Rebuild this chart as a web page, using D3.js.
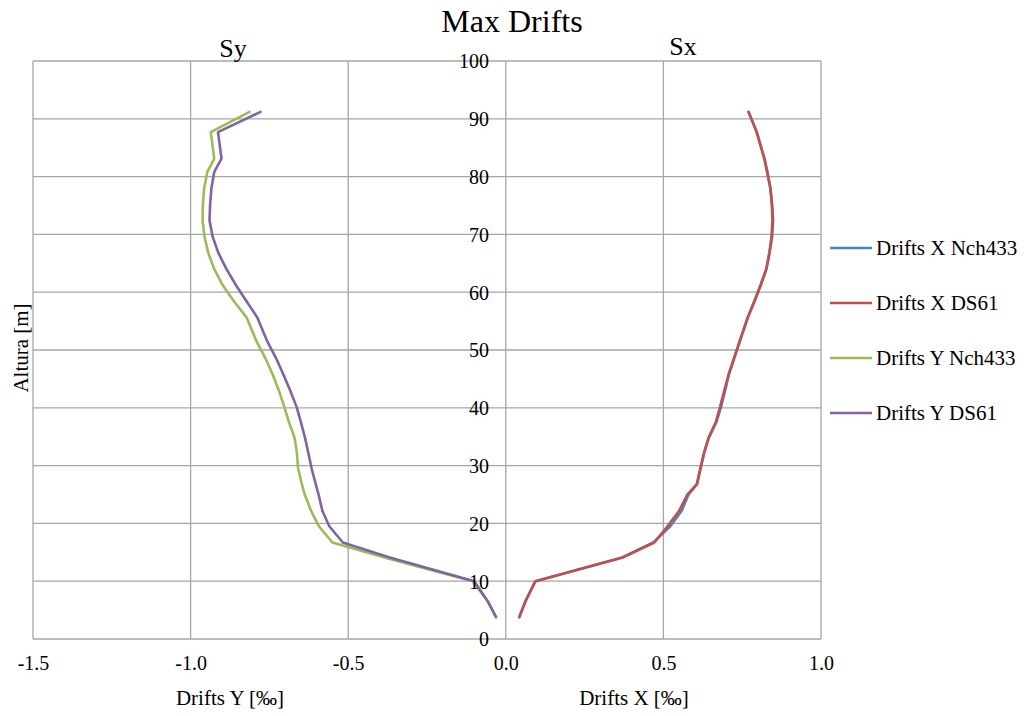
<!DOCTYPE html>
<html>
<head>
<meta charset="utf-8">
<script src="https://cdn.jsdelivr.net/npm/d3@7"></script>
<style>
  html, body { margin: 0; padding: 0; background: #fff; }
  svg { display: block; font-family: "Liberation Serif", "Times New Roman", serif; }
</style>
</head>
<body>
<svg id="chart" width="1026" height="716"></svg>
<script>
// Storey heights [m] shared by every series
const heights = [3.8, 6.5, 10, 14.1, 16.7, 19.5, 22.2, 25, 26.8, 29.5, 32.3, 34.8, 37.5, 40.2, 43, 45.8,
  48.6, 51.4, 55.6, 58.4, 61.2, 64, 66.8, 69.6, 72.4, 75.2, 78, 80.8, 83.1, 87.7, 91.2];

// Drifts in X direction [‰]
const driftsXNch433 = [0.043, 0.062, 0.094, 0.370, 0.468, 0.522, 0.558, 0.580, 0.607, 0.618, 0.630, 0.644,
  0.668, 0.683, 0.696, 0.708, 0.725, 0.742, 0.768, 0.789, 0.809, 0.827, 0.837, 0.845, 0.848, 0.845,
  0.840, 0.830, 0.821, 0.796, 0.770];
const driftsXDS61 = [0.043, 0.062, 0.094, 0.370, 0.471, 0.513, 0.550, 0.576, 0.606, 0.617, 0.629, 0.643,
  0.666, 0.680, 0.693, 0.707, 0.724, 0.741, 0.767, 0.788, 0.808, 0.826, 0.836, 0.843, 0.846, 0.844,
  0.839, 0.829, 0.820, 0.796, 0.770];

// Drifts in Y direction [‰]
const driftsYNch433 = [-0.031, -0.057, -0.105, -0.385, -0.550, -0.593, -0.618, -0.638, -0.647, -0.659,
  -0.663, -0.670, -0.688, -0.703, -0.720, -0.740, -0.763, -0.790, -0.822, -0.862, -0.898, -0.925,
  -0.944, -0.956, -0.962, -0.961, -0.957, -0.947, -0.925, -0.936, -0.813];
const driftsYDS61 = [-0.031, -0.057, -0.100, -0.368, -0.517, -0.560, -0.582, -0.594, -0.603, -0.616,
  -0.627, -0.637, -0.650, -0.664, -0.684, -0.706, -0.729, -0.756, -0.788, -0.822, -0.856, -0.886,
  -0.912, -0.930, -0.940, -0.938, -0.934, -0.925, -0.902, -0.913, -0.778];

const seriesNames = ["Drifts X Nch433", "Drifts X DS61", "Drifts Y Nch433", "Drifts Y DS61"];
const seriesColors = ["#4F81BD", "#C0504D", "#9BBB59", "#8064A2"];
const seriesValues = [driftsXNch433, driftsXDS61, driftsYNch433, driftsYDS61];

const xTicks = [-1.5, -1.0, -0.5, 0.0, 0.5, 1.0];
const yTicks = [0, 10, 20, 30, 40, 50, 60, 70, 80, 90, 100];

const svg = d3.select("#chart");
const plot = { left: 33, right: 821, top: 61, bottom: 639 };

const x = d3.scaleLinear().domain([-1.5, 1.0]).range([plot.left, plot.right]);
const y = d3.scaleLinear().domain([0, 100]).range([plot.bottom, plot.top]);

const gridColor = "#A6A6A6";

// Gridlines
const grid = svg.append("g");
grid.selectAll("line.v").data(xTicks).join("line")
  .attr("x1", d => x(d)).attr("x2", d => x(d))
  .attr("y1", plot.top).attr("y2", plot.bottom)
  .attr("stroke", gridColor).attr("stroke-width", 1.3);
grid.selectAll("line.h").data(yTicks).join("line")
  .attr("x1", plot.left).attr("x2", plot.right)
  .attr("y1", d => y(d)).attr("y2", d => y(d))
  .attr("stroke", gridColor).attr("stroke-width", 1.3);

// Series lines
const line = d3.line()
  .x(d => x(d[0]))
  .y(d => y(d[1]));

seriesValues.forEach((vals, i) => {
  svg.append("path")
    .datum(vals.map((v, k) => [v, heights[k]]))
    .attr("fill", "none")
    .attr("stroke", seriesColors[i])
    .attr("stroke-width", 2.6)
    .attr("stroke-linejoin", "round")
    .attr("stroke-linecap", "round")
    .attr("d", line);
});

// X axis labels
const xAxis = d3.axisBottom(x).tickValues(xTicks).tickSize(0).tickPadding(0)
  .tickFormat(d => d.toFixed(1));
const gx = svg.append("g").attr("transform", `translate(0, 670)`).call(xAxis);
gx.select(".domain").remove();
gx.selectAll("text")
  .attr("dy", 0).attr("y", 0)
  .attr("font-family", "Liberation Serif, Times New Roman, serif")
  .attr("font-size", 20).attr("fill", "#000");

// Y axis labels, placed beside the zero line
const yAxis = d3.axisLeft(y).tickValues(yTicks).tickSize(0).tickPadding(0);
const gy = svg.append("g").attr("transform", `translate(489, 0)`).call(yAxis);
gy.select(".domain").remove();
gy.selectAll("text")
  .attr("x", 0).attr("dy", "0.34em")
  .attr("font-family", "Liberation Serif, Times New Roman, serif")
  .attr("font-size", 20).attr("fill", "#000");

// Titles
const txt = (s, tx, ty, size, anchor = "middle") =>
  svg.append("text").attr("x", tx).attr("y", ty).attr("font-size", size)
    .attr("text-anchor", anchor).attr("fill", "#000").text(s);

txt("Max Drifts", 512, 32, 32);
txt("Sy", 233, 57, 26);
txt("Sx", 683, 55, 26);
txt("Drifts Y [‰]", 230, 705, 21);
txt("Drifts X [‰]", 634, 705, 21);
svg.append("text")
  .attr("transform", "translate(28, 348) rotate(-90)")
  .attr("text-anchor", "middle").attr("font-size", 21).attr("fill", "#000")
  .text("Altura [m]");

// Legend
const legendY = [248, 303, 358, 413];
const legend = svg.append("g");
seriesNames.forEach((name, i) => {
  legend.append("line")
    .attr("x1", 830).attr("x2", 872)
    .attr("y1", legendY[i]).attr("y2", legendY[i])
    .attr("stroke", seriesColors[i]).attr("stroke-width", 2.6);
  legend.append("text")
    .attr("x", 876).attr("y", legendY[i]).attr("dy", "0.34em")
    .attr("font-size", 21).attr("fill", "#000")
    .text(name);
});
</script>
</body>
</html>
